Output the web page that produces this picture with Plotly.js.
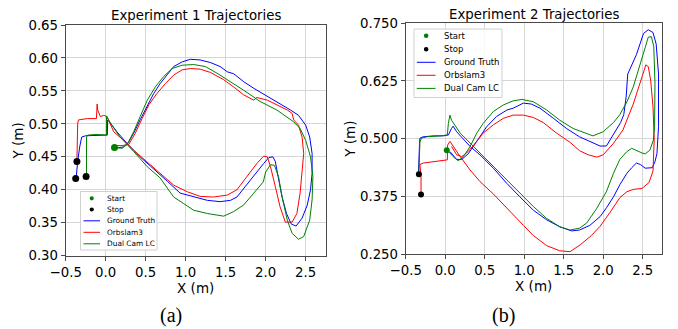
<!DOCTYPE html>
<html><head><meta charset="utf-8">
<script src="https://cdn.plot.ly/plotly-3.0.1.min.js"></script>
<style>html,body{margin:0;padding:0;background:#fff}#chart{width:678px;height:329px}</style>
</head><body><div id="chart"></div>
<script>
// ---------- names / labels ----------
const seriesNames = ["Start", "Stop", "Ground Truth", "Orbslam3", "Dual Cam LC"];
const plotTitles = ["Experiment 1 Trajectories", "Experiment 2 Trajectories"];
const captions = ["(a)", "(b)"];
const exp1YTicks = [0.30, 0.35, 0.40, 0.45, 0.50, 0.55, 0.60, 0.65];
const exp2YTicks = [0.25, 0.375, 0.5, 0.625, 0.75];
const xTicks = [-0.5, 0.0, 0.5, 1.0, 1.5, 2.0, 2.5];

// ---------- Experiment 1 ----------
const exp1GtX = [0.12,0.225,0.29,0.35,0.43,0.52,0.60,0.68,0.77,0.85,0.955,1.06,1.18,1.31,1.43,1.52,1.60,1.725,1.85,2.02,2.18,2.31,2.41,2.50,2.55,2.58,2.58,2.56,2.52,2.455,2.38,2.32,2.26,2.205,2.155,2.12,2.09,2.04,1.975,1.89,1.77,1.64,1.56,1.43,1.27,1.10,0.93,0.77,0.60,0.43,0.27,0.14,0.06,0.025,0.02,-0.11,-0.25,-0.30,-0.325,-0.35,-0.37];
const exp1GtY = [0.463,0.465,0.473,0.486,0.506,0.526,0.546,0.561,0.574,0.587,0.594,0.598,0.597,0.593,0.587,0.579,0.576,0.564,0.554,0.542,0.531,0.521,0.513,0.498,0.480,0.455,0.425,0.400,0.377,0.357,0.345,0.348,0.364,0.389,0.420,0.443,0.450,0.449,0.440,0.427,0.410,0.389,0.384,0.382,0.384,0.390,0.395,0.413,0.432,0.450,0.470,0.488,0.501,0.506,0.483,0.483,0.482,0.480,0.465,0.443,0.417];
const exp1OrbX = [0.10,0.205,0.29,0.37,0.455,0.54,0.64,0.745,0.85,0.955,1.06,1.18,1.31,1.475,1.60,1.725,1.85,1.89,2.02,2.14,2.27,2.33,2.35,2.41,2.455,2.475,2.455,2.43,2.39,2.33,2.245,2.18,2.12,2.06,2.02,1.975,1.89,1.77,1.64,1.52,1.35,1.18,1.02,0.85,0.68,0.52,0.35,0.225,0.10,0.017,-0.025,-0.066,-0.10,-0.107,-0.116,-0.23,-0.34,-0.35,-0.36];
const exp1OrbY = [0.467,0.467,0.469,0.486,0.508,0.529,0.546,0.561,0.574,0.582,0.584,0.583,0.578,0.567,0.556,0.544,0.536,0.540,0.536,0.529,0.521,0.516,0.506,0.498,0.480,0.455,0.425,0.395,0.364,0.351,0.351,0.374,0.405,0.435,0.450,0.451,0.440,0.420,0.400,0.392,0.389,0.390,0.397,0.407,0.425,0.443,0.460,0.475,0.488,0.511,0.513,0.511,0.521,0.530,0.508,0.508,0.506,0.501,0.443];
const exp1LcX = [0.12,0.205,0.27,0.35,0.43,0.52,0.62,0.725,0.83,0.955,1.10,1.245,1.39,1.56,1.725,1.93,2.14,2.35,2.43,2.50,2.56,2.59,2.58,2.55,2.475,2.41,2.33,2.27,2.205,2.16,2.11,2.06,2.00,1.97,1.85,1.725,1.60,1.475,1.27,1.10,0.975,0.85,0.68,0.52,0.35,0.18,0.06,0.01,0.01,-0.107,-0.225,-0.24,-0.24];
const exp1LcY = [0.464,0.463,0.469,0.488,0.511,0.536,0.556,0.572,0.584,0.589,0.590,0.587,0.577,0.564,0.551,0.534,0.521,0.503,0.493,0.475,0.450,0.420,0.385,0.354,0.329,0.325,0.334,0.354,0.389,0.420,0.437,0.438,0.427,0.412,0.395,0.377,0.367,0.360,0.364,0.369,0.379,0.389,0.418,0.435,0.458,0.480,0.501,0.512,0.483,0.484,0.483,0.480,0.420];
const exp1StartX = [0.11];
const exp1StartY = [0.464];
const exp1StopX = [-0.36, -0.375, -0.245];
const exp1StopY = [0.443, 0.417, 0.420];

// ---------- Experiment 2 ----------
const exp2GtX = [0.06,0.145,0.21,0.29,0.355,0.44,0.525,0.65,0.78,0.86,0.99,1.09,1.20,1.37,1.535,1.70,1.87,1.96,2.04,2.09,2.15,2.22,2.26,2.29,2.31,2.34,2.42,2.51,2.57,2.63,2.67,2.70,2.70,2.68,2.655,2.62,2.53,2.47,2.42,2.36,2.30,2.21,2.13,2.04,1.96,1.83,1.70,1.60,1.45,1.285,1.115,0.945,0.78,0.61,0.44,0.315,0.21,0.145,0.10,0.08,0.04,-0.025,-0.15,-0.28,-0.32,-0.325,-0.335,-0.34];
const exp2GtY = [0.472,0.455,0.455,0.467,0.483,0.504,0.526,0.548,0.562,0.566,0.577,0.575,0.566,0.544,0.522,0.504,0.490,0.484,0.484,0.499,0.515,0.535,0.552,0.590,0.640,0.652,0.682,0.728,0.736,0.730,0.705,0.640,0.526,0.468,0.450,0.437,0.436,0.444,0.447,0.437,0.425,0.400,0.374,0.350,0.331,0.312,0.302,0.300,0.309,0.324,0.345,0.374,0.403,0.436,0.465,0.483,0.504,0.515,0.527,0.522,0.508,0.506,0.506,0.504,0.501,0.490,0.443,0.425];
const exp2OrbX = [0.08,0.145,0.21,0.29,0.38,0.48,0.61,0.735,0.86,0.99,1.115,1.24,1.41,1.58,1.70,1.81,1.92,2.00,2.13,2.25,2.38,2.47,2.51,2.54,2.57,2.60,2.63,2.645,2.63,2.58,2.49,2.38,2.30,2.21,2.085,1.96,1.85,1.71,1.58,1.45,1.285,1.115,0.99,0.78,0.61,0.44,0.315,0.19,0.10,0.06,0.03,0.027,-0.066,-0.19,-0.28,-0.32,-0.306,-0.306];
const exp2OrbY = [0.483,0.465,0.461,0.472,0.490,0.512,0.530,0.544,0.551,0.551,0.546,0.535,0.512,0.492,0.474,0.465,0.460,0.465,0.490,0.519,0.575,0.625,0.648,0.660,0.656,0.627,0.569,0.497,0.430,0.405,0.392,0.390,0.385,0.372,0.340,0.310,0.290,0.270,0.255,0.257,0.268,0.290,0.312,0.350,0.380,0.407,0.432,0.461,0.483,0.494,0.486,0.454,0.452,0.450,0.447,0.444,0.418,0.379];
const exp2LcX = [0.027,0.10,0.165,0.23,0.315,0.40,0.48,0.61,0.735,0.86,0.97,1.115,1.285,1.45,1.62,1.79,1.87,2.00,2.13,2.21,2.30,2.38,2.47,2.53,2.57,2.61,2.64,2.655,2.65,2.635,2.59,2.53,2.49,2.42,2.36,2.30,2.21,2.13,2.04,1.915,1.79,1.70,1.58,1.45,1.285,1.115,0.945,0.78,0.61,0.44,0.315,0.19,0.08,0.06,0.04,0.027,-0.066,-0.235,-0.30,-0.32,-0.33,-0.333];
const exp2LcY = [0.475,0.461,0.452,0.461,0.483,0.512,0.533,0.559,0.573,0.582,0.585,0.580,0.562,0.540,0.522,0.512,0.506,0.515,0.535,0.552,0.580,0.612,0.660,0.697,0.720,0.721,0.699,0.620,0.526,0.497,0.475,0.467,0.469,0.475,0.479,0.472,0.455,0.425,0.385,0.348,0.317,0.306,0.302,0.309,0.327,0.353,0.382,0.410,0.439,0.468,0.490,0.512,0.540,0.551,0.533,0.508,0.506,0.504,0.501,0.493,0.439,0.423];
const exp2StartX = [0.02];
const exp2StartY = [0.475];
const exp2StopX = [-0.333, -0.306];
const exp2StopY = [0.423, 0.379];

// ---------- styling ----------
const W = 678, H = 329;
const FONT = "DejaVu Sans, sans-serif";
const COL = {start: "#008000", stop: "#000000", gt: "#0000ff", orb: "#ff0000", lc: "#008000"};
const px = v => v / W;
const py = v => 1 - v / H;

function lineTrace(x, y, name, color, xa, ya) {
  return {x, y, name, type: "scatter", mode: "lines", xaxis: xa, yaxis: ya,
          line: {color, width: 1}, showlegend: false, hoverinfo: "skip"};
}
function dotTrace(x, y, name, color, xa, ya, size) {
  return {x, y, name, type: "scatter", mode: "markers", xaxis: xa, yaxis: ya,
          marker: {color, size}, showlegend: false, hoverinfo: "skip"};
}

const traces = [
  lineTrace(exp1GtX, exp1GtY, seriesNames[2], COL.gt, "x", "y"),
  lineTrace(exp1OrbX, exp1OrbY, seriesNames[3], COL.orb, "x", "y"),
  lineTrace(exp1LcX, exp1LcY, seriesNames[4], COL.lc, "x", "y"),
  dotTrace(exp1StartX, exp1StartY, seriesNames[0], COL.start, "x", "y", 7),
  dotTrace(exp1StopX, exp1StopY, seriesNames[1], COL.stop, "x", "y", 7),
  lineTrace(exp2GtX, exp2GtY, seriesNames[2], COL.gt, "x2", "y2"),
  lineTrace(exp2OrbX, exp2OrbY, seriesNames[3], COL.orb, "x2", "y2"),
  lineTrace(exp2LcX, exp2LcY, seriesNames[4], COL.lc, "x2", "y2"),
  dotTrace(exp2StartX, exp2StartY, seriesNames[0], COL.start, "x2", "y2", 6),
  dotTrace(exp2StopX, exp2StopY, seriesNames[1], COL.stop, "x2", "y2", 6)
];

// manual legends (matplotlib-style compact boxes)
const shapes = [];
const annotations = [];
function addLegend(box, rows, lineX0, lineX1, textX, fsize, dotR) {
  shapes.push({type: "rect", xref: "paper", yref: "paper",
    x0: px(box[0]), x1: px(box[1]), y0: py(box[3]), y1: py(box[2]),
    line: {color: "#d0d0d0", width: 1}, fillcolor: "rgba(255,255,255,0.85)", layer: "above"});
  const colors = [COL.start, COL.stop, COL.gt, COL.orb, COL.lc];
  seriesNames.forEach((nm, i) => {
    const ry = rows[i];
    if (i < 2) {
      const cx = (lineX0 + lineX1) / 2;
      shapes.push({type: "circle", xref: "paper", yref: "paper",
        x0: px(cx - dotR), x1: px(cx + dotR), y0: py(ry + dotR), y1: py(ry - dotR),
        fillcolor: colors[i], line: {color: colors[i], width: 0}, layer: "above"});
    } else {
      shapes.push({type: "line", xref: "paper", yref: "paper",
        x0: px(lineX0), x1: px(lineX1), y0: py(ry), y1: py(ry),
        line: {color: colors[i], width: 1}, layer: "above"});
    }
    annotations.push({text: nm, xref: "paper", yref: "paper", x: px(textX), y: py(ry),
      xanchor: "left", yanchor: "middle", showarrow: false,
      font: {family: FONT, size: fsize, color: "#000"}});
  });
}
addLegend([80.5, 157, 191.5, 250], [198.3, 209.5, 220.8, 232.3, 243.8], 83.5, 100, 105, 7.4, 2.1);
addLegend([414, 502, 29, 97.5], [35.8, 49.2, 62.3, 75.3, 88.4], 416.8, 435.5, 441.5, 8.5, 2.3);

// subplot titles
annotations.push({text: plotTitles[0], xref: "paper", yref: "paper", x: px(195.7), y: py(15.5),
  xanchor: "center", yanchor: "middle", showarrow: false, font: {family: FONT, size: 13.3, color: "#000"}});
annotations.push({text: plotTitles[1], xref: "paper", yref: "paper", x: px(534), y: py(14.7),
  xanchor: "center", yanchor: "middle", showarrow: false, font: {family: FONT, size: 13.3, color: "#000"}});
// captions
annotations.push({text: captions[0], xref: "paper", yref: "paper", x: px(170.5), y: py(315),
  xanchor: "center", yanchor: "middle", showarrow: false, font: {family: "Liberation Serif, serif", size: 20, color: "#000"}});
annotations.push({text: captions[1], xref: "paper", yref: "paper", x: px(503.5), y: py(315),
  xanchor: "center", yanchor: "middle", showarrow: false, font: {family: "Liberation Serif, serif", size: 20, color: "#000"}});

const tickFont = {family: FONT, size: 13.3, color: "#000"};
const axTitleFont = {family: FONT, size: 13.5, color: "#000"};
const common = {showgrid: true, gridcolor: "#d6d6d6", gridwidth: 1, zeroline: false,
  showline: true, linecolor: "#4a4a4a", linewidth: 1, mirror: true,
  ticks: "outside", ticklen: 4, tickcolor: "#4a4a4a", tickwidth: 1,
  tickfont: tickFont, automargin: false, fixedrange: true};

const layout = {
  width: W, height: H,
  margin: {l: 0, r: 0, t: 0, b: 0, pad: 0},
  paper_bgcolor: "#fff", plot_bgcolor: "#fff",
  showlegend: false,
  xaxis: Object.assign({}, common, {domain: [px(65.7), px(325.7)], range: [-0.5, 2.75],
    tickvals: xTicks, tickformat: ".1f", anchor: "y",
    title: {text: "X (m)", font: axTitleFont, standoff: 0}}),
  yaxis: Object.assign({}, common, {domain: [py(255.7), py(25)], range: [0.30, 0.65],
    tickvals: exp1YTicks, tickformat: ".2f", anchor: "x",
    title: {text: "Y (m)", font: axTitleFont, standoff: 1}}),
  xaxis2: Object.assign({}, common, {domain: [px(405.7), px(661.7)], range: [-0.5, 2.74],
    tickvals: xTicks, tickformat: ".1f", anchor: "y2",
    title: {text: "X (m)", font: axTitleFont, standoff: 0}}),
  yaxis2: Object.assign({}, common, {domain: [py(254), py(23.3)], range: [0.25, 0.75],
    tickvals: exp2YTicks, tickformat: ".3f", anchor: "x2",
    title: {text: "Y (m)", font: axTitleFont, standoff: 1}}),
  shapes, annotations
};

Plotly.newPlot("chart", traces, layout, {staticPlot: true, displayModeBar: false});
</script>
</body></html>
